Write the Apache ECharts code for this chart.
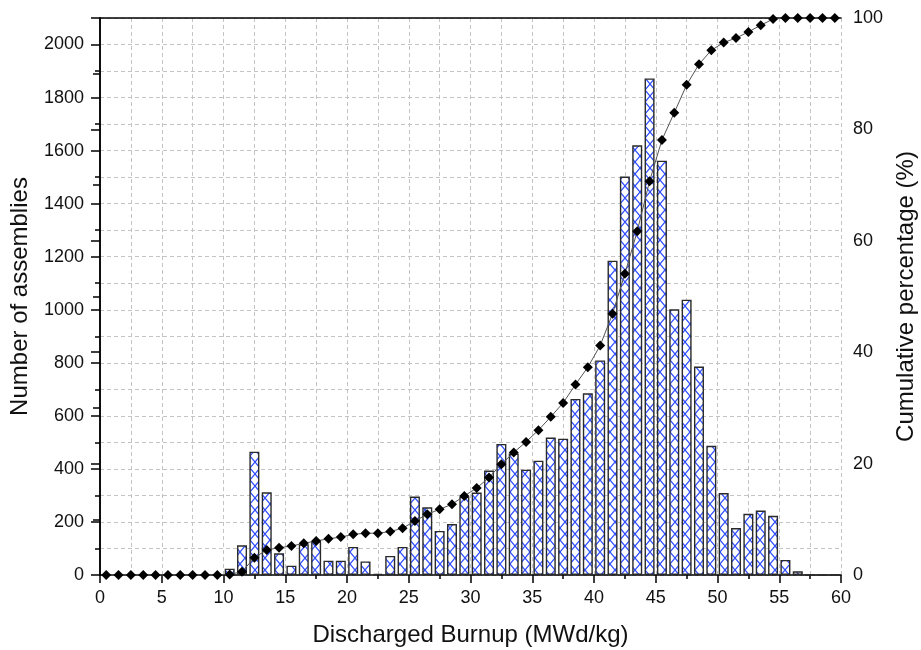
<!DOCTYPE html>
<html>
<head>
<meta charset="utf-8">
<style>
  html, body { margin: 0; padding: 0; background: #fff; }
  #chart { width: 921px; height: 650px; }
</style>
<script src="https://cdn.jsdelivr.net/npm/echarts@6/dist/echarts.min.js"></script>
</head>
<body>
<div id="chart"></div>
<script>
// Bin centres of the burnup histogram (1 MWd/kg wide bins)
const binCenters = [
  0.5, 1.5, 2.5, 3.5, 4.5, 5.5, 6.5, 7.5, 8.5, 9.5,
  10.5, 11.5, 12.5, 13.5, 14.5, 15.5, 16.5, 17.5, 18.5, 19.5,
  20.5, 21.5, 22.5, 23.5, 24.5, 25.5, 26.5, 27.5, 28.5, 29.5,
  30.5, 31.5, 32.5, 33.5, 34.5, 35.5, 36.5, 37.5, 38.5, 39.5,
  40.5, 41.5, 42.5, 43.5, 44.5, 45.5, 46.5, 47.5, 48.5, 49.5,
  50.5, 51.5, 52.5, 53.5, 54.5, 55.5, 56.5, 57.5, 58.5, 59.5
];

// Number of assemblies in each bin
const assemblyCounts = [
  0, 0, 0, 0, 0, 0, 0, 0, 0, 0,
  24, 112, 465, 312, 82, 35, 116, 127, 54, 54,
  106, 51, 5, 72, 106, 296, 255, 166, 192, 296,
  311, 394, 494, 458, 397, 431, 518, 514, 664, 685,
  809, 1185, 1502, 1620, 1872, 1562, 1002, 1038, 786, 487,
  309, 177, 231, 243, 223, 57, 14, 0, 0, 0
];

// Cumulative percentage of assemblies (%)
const cumulativePct = [
  0, 0, 0, 0, 0, 0, 0, 0, 0, 0,
  0.1, 0.6, 3.1, 4.5, 4.9, 5.2, 5.7, 6.1, 6.5, 6.8,
  7.3, 7.5, 7.5, 7.8, 8.4, 9.7, 10.9, 11.8, 12.7, 14.2,
  15.6, 17.5, 19.9, 22.0, 23.9, 26.0, 28.4, 30.9, 34.2, 37.3,
  41.2, 46.9, 54.1, 61.7, 70.7, 78.1, 83.0, 88.0, 91.7, 94.2,
  95.6, 96.4, 97.5, 98.7, 99.8, 100, 100, 100, 100, 100
];

// Cross-hatch fill for the histogram bars
function makeHatch() {
  const c = document.createElement('canvas');
  c.width = 10; c.height = 12;
  const g = c.getContext('2d');
  g.fillStyle = '#ffffff';
  g.fillRect(0, 0, 10, 12);
  g.strokeStyle = '#2f4dff';
  g.lineWidth = 1.2;
  g.beginPath();
  g.moveTo(0, 0); g.lineTo(10, 12);
  g.moveTo(10, 0); g.lineTo(0, 12);
  g.stroke();
  return c;
}

const FONT = '"Liberation Sans", Arial, Helvetica, sans-serif';
const gridLine = { show: true, lineStyle: { color: '#c4c4c4', type: [4, 3], width: 1 } };
const plainNumber = v => String(v);

const chart = echarts.init(document.getElementById('chart'), null, { renderer: 'canvas' });

chart.setOption({
  animation: false,
  backgroundColor: '#ffffff',
  grid: {
    left: 100, right: 80, top: 18, bottom: 75,
    outerBoundsMode: 'none',
    containLabel: false
  },
  xAxis: [
    {
      type: 'value',
      min: 0, max: 60, interval: 5,
      name: 'Discharged Burnup (MWd/kg)',
      nameLocation: 'middle',
      nameGap: 48,
      nameTextStyle: { fontFamily: FONT, fontSize: 24, color: '#111' },
      axisLine: { show: true, onZero: false, lineStyle: { color: '#000', width: 1.5 } },
      axisTick: { show: true, inside: false, length: 8, lineStyle: { color: '#000', width: 1.5 } },
      minorTick: { show: true, splitNumber: 2, length: 4, lineStyle: { color: '#000', width: 1.5 } },
      axisLabel: { fontFamily: FONT, fontSize: 18, color: '#111', margin: 14, formatter: plainNumber },
      splitLine: gridLine,
      minorSplitLine: gridLine
    },
    {
      // top frame line
      type: 'value',
      position: 'top',
      min: 0, max: 60,
      axisLine: { show: true, onZero: false, lineStyle: { color: '#000', width: 1.5 } },
      axisTick: { show: false },
      axisLabel: { show: false },
      splitLine: { show: false }
    }
  ],
  yAxis: [
    {
      type: 'value',
      min: 0, max: 2100, interval: 200,
      name: 'Number of assemblies',
      nameLocation: 'middle',
      nameRotate: 90,
      nameGap: 68,
      nameTextStyle: { fontFamily: FONT, fontSize: 24, color: '#111' },
      axisLine: { show: true, lineStyle: { color: '#000', width: 1.5 } },
      axisTick: { show: true, inside: false, length: 9, lineStyle: { color: '#000', width: 1.5 } },
      minorTick: { show: true, splitNumber: 2, length: 5, lineStyle: { color: '#000', width: 1.5 } },
      axisLabel: { fontFamily: FONT, fontSize: 18, color: '#111', margin: 16, showMaxLabel: false, formatter: plainNumber },
      splitLine: gridLine,
      minorSplitLine: gridLine
    },
    {
      type: 'value',
      position: 'right',
      min: 0, max: 100, interval: 20,
      name: 'Cumulative percentage (%)',
      nameLocation: 'middle',
      nameRotate: 90,
      nameGap: 50,
      nameTextStyle: { fontFamily: FONT, fontSize: 24, color: '#111' },
      axisLine: { show: true, lineStyle: { color: '#000', width: 1.5 } },
      axisTick: { show: true, inside: true, length: 9, lineStyle: { color: '#000', width: 1.5 } },
      minorTick: { show: true, splitNumber: 2, length: 7, lineStyle: { color: '#000', width: 1.5 } },
      axisLabel: { fontFamily: FONT, fontSize: 18, color: '#111', margin: 12, formatter: plainNumber },
      splitLine: { show: false },
      minorSplitLine: { show: false }
    }
  ],
  series: [
    {
      type: 'bar',
      xAxisIndex: 0,
      yAxisIndex: 0,
      barWidth: 10,
      data: binCenters.map((x, i) => [x, assemblyCounts[i]]),
      itemStyle: {
        color: { image: makeHatch(), repeat: 'repeat' },
        borderColor: '#2a2a2a',
        borderWidth: 1.4
      },
      z: 2
    },
    {
      type: 'line',
      xAxisIndex: 0,
      yAxisIndex: 1,
      data: binCenters.map((x, i) => [x, cumulativePct[i]]),
      symbol: 'diamond',
      symbolSize: 10,
      itemStyle: { color: '#000' },
      lineStyle: { color: '#555', width: 1 },
      clip: false,
      z: 3
    }
  ]
});
</script>
</body>
</html>
